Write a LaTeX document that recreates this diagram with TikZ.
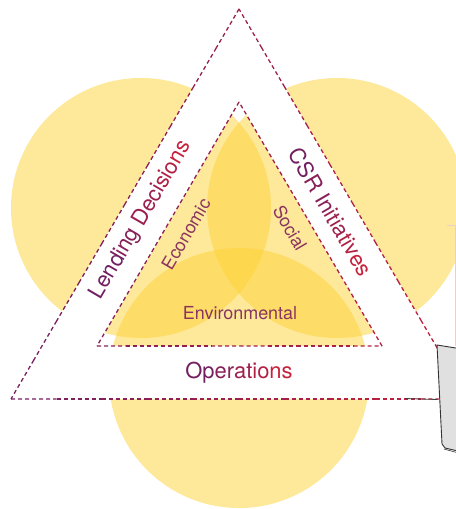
\documentclass[tikz,border=0pt]{standalone}
\usepackage{fontspec}
\setmainfont{TeX Gyre Heros}
\usetikzlibrary{calc}

\definecolor{plum}{HTML}{722062}
\definecolor{crimsn}{HTML}{C8203A}
\definecolor{sunny}{HTML}{FDD135}
\definecolor{lblcol}{HTML}{8A3560}
\definecolor{boxgray}{HTML}{E0E0E0}
\definecolor{pinkline}{HTML}{EBCFCF}

\tikzset{
  pillar/.style={fill=sunny, fill opacity=0.5},
  edgeline/.style={dash pattern=on 4bp off 3bp, line width=1.3bp},
  outerlabel/.style={font=\fontsize{22}{24}\selectfont, inner sep=0pt},
  innerlabel/.style={font=\fontsize{18}{20}\selectfont, text=lblcol, inner sep=0pt}
}

% text running from plum into crimson, in five pieces
\newcommand\fadetext[5]{\textcolor{plum}{#1}\textcolor{crimsn!25!plum}{#2}%
  \textcolor{crimsn!50!plum}{#3}\textcolor{crimsn!75!plum}{#4}\textcolor{crimsn}{#5}}

% dashed side from #1 to #2, colour going from #3 to #4 percent crimson
\newcommand\gradedge[4]{%
  \foreach \k in {0,...,9}{%
    \pgfmathtruncatemacro\pc{#3+(#4-#3)*(\k+0.5)/10}%
    \draw[edgeline, draw=crimsn!\pc!plum]
      ($(#1)!{\k/10}!(#2)$) -- ($(#1)!{(\k+1)/10}!(#2)$);
  }}

\begin{document}
\begin{tikzpicture}[x=1bp, y=-1bp]
  \clip (0,0) rectangle (456,509);

  % three pillars
  \fill[pillar] (141,208) circle (130);
  \fill[pillar] (337,208) circle (130);
  \fill[pillar] (239,378) circle (130);

  % corner points of the two triangles
  \coordinate (otop) at (239,9);
  \coordinate (oleft) at (11,399);
  \coordinate (oright) at (467,399);
  \coordinate (itop) at (239,102);
  \coordinate (ileft) at (97,346);
  \coordinate (iright) at (382,346);

  % white band between the triangles
  \fill[white, even odd rule, rounded corners=2bp]
    (otop) -- (oleft) -- (oright) -- cycle
    (itop) -- (ileft) -- (iright) -- cycle;

  \gradedge{otop}{oleft}{50}{0}
  \gradedge{oleft}{oright}{0}{100}
  \gradedge{oright}{otop}{100}{50}
  \gradedge{itop}{ileft}{50}{19}
  \gradedge{ileft}{iright}{19}{81}
  \gradedge{iright}{itop}{81}{50}

  % band labels
  \node[outerlabel, rotate=59.7] (lending) at (141,220)
    {\fadetext{Lend}{ing }{Deci}{sio}{ns}};
  \node[outerlabel, rotate=-59.7] (csr) at (331,212)
    {\fadetext{CS}{R In}{itia}{tiv}{es}};
  \node[outerlabel] (ops) at (239,373) {\fadetext{Op}{er}{at}{io}{ns}};

  % pillar labels
  \node[innerlabel, rotate=59.7] (econ) at (186,234) {Economic};
  \node[innerlabel, rotate=-59.7] (social) at (290,228) {Social};
  \node[innerlabel] (env) at (240,313) {Environmental};

  % edge of the neighbouring panel
  \draw[pinkline, line width=0.8bp] (447,225) -- (455.5,225) -- (455.5,346);
  \filldraw[fill=boxgray, draw=black!80, line width=0.9bp]
    (437,345) -- (462,349) -- (462,452) -- (445,448) -- (442,444) -- cycle;
  \draw[black!70, line width=0.7bp] (444,449) -- (462,454);
  \coordinate (stub) at (405,398.5);
  \coordinate (tab) at (437.5,399.5);
  \draw[black!75, line width=0.8bp] (stub) -- (tab);
\end{tikzpicture}
\end{document}
